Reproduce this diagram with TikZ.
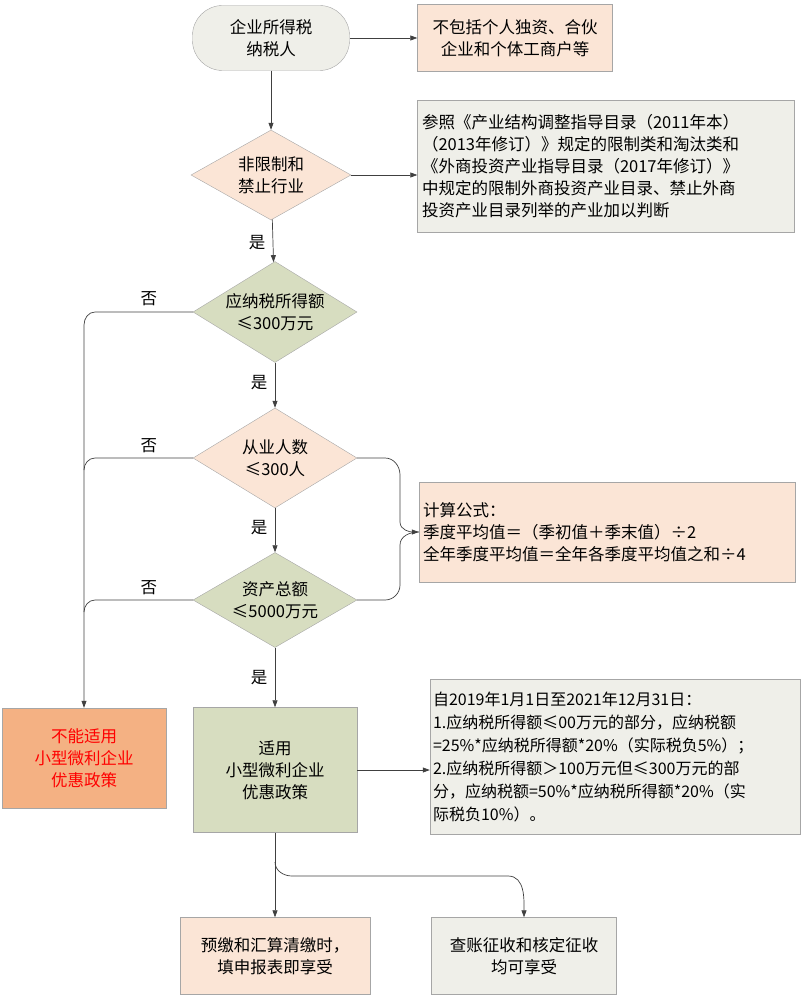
\documentclass[tikz,border=0pt]{standalone}
\usepackage{fontspec}
\setmainfont{Noto Sans CJK SC}
\usetikzlibrary{shapes.geometric,arrows.meta}
\definecolor{peach}{HTML}{FBE5D6}
\definecolor{grayf}{HTML}{EFEFE9}
\definecolor{greenf}{HTML}{D7DDC0}
\definecolor{orangef}{HTML}{F4B183}
\definecolor{ln}{HTML}{404040}
\begin{document}
\begin{tikzpicture}[x=1pt,y=-1pt,
 every node/.style={font=\fontsize{16.5}{22}\selectfont},
 bx/.style={draw=gray!70,align=center,inner sep=0pt},
 dm/.style={draw=gray!70,diamond,aspect=1.65,align=center,inner sep=0pt},
 ar/.style={draw=ln,-{Triangle[length=7pt,width=5pt]},line width=0.7pt},
 ln/.style={draw=ln,line width=0.7pt}]
\useasboundingbox (0,0) rectangle (805,1000);
\node[bx,fill=grayf,rounded corners=30pt,minimum width=157pt,minimum height=65pt] (s) at (271,38) {企业所得税\\纳税人};
\node[bx,fill=peach,minimum width=195pt,minimum height=67pt] (r1) at (515,38) {不包括个人独资、合伙\\企业和个体工商户等};
\node[dm,fill=peach,minimum width=160pt,minimum height=90pt] (d1) at (271,175) {非限制和\\禁止行业};
\node[bx,fill=grayf,minimum width=377pt,minimum height=132pt,align=left,text width=368pt,inner sep=4pt] (r2) at (606,166) {参照《产业结构调整指导目录（2011年本）\\（2013年修订）》规定的限制类和淘汰类和\\《外商投资产业指导目录（2017年修订）》\\中规定的限制外商投资产业目录、禁止外商\\投资产业目录列举的产业加以判断};
\node[dm,fill=greenf,minimum width=164pt,minimum height=101pt] (d2) at (275,312) {应纳税所得额\\≤300万元};
\node[dm,fill=peach,minimum width=164pt,minimum height=100pt] (d3) at (275,458) {从业人数\\≤300人};
\node[dm,fill=greenf,minimum width=164pt,minimum height=95pt] (d4) at (275,600) {资产总额\\≤5000万元};
\node[bx,fill=peach,minimum width=375pt,minimum height=100pt,align=left,text width=368pt,inner sep=4pt] (f) at (607,532) {计算公式：\\季度平均值＝（季初值＋季末值）÷2\\全年季度平均值＝全年各季度平均值之和÷4};
\node[bx,fill=orangef,text=red,minimum width=164pt,minimum height=100pt] (no) at (84,758) {不能适用\\小型微利企业\\优惠政策};
\node[bx,fill=greenf,minimum width=164pt,minimum height=125pt] (yes) at (275,770) {适用\\小型微利企业\\优惠政策};
\node[bx,fill=grayf,minimum width=370pt,minimum height=155pt,align=left,text width=364pt,inner sep=3pt,font=\fontsize{16}{23}\selectfont] (r3) at (615,757) {自2019年1月1日至2021年12月31日：\\1.应纳税所得额≤00万元的部分，应纳税额\\=25\%*应纳税所得额*20\%（实际税负5\%）；\\2.应纳税所得额＞100万元但≤300万元的部\\分，应纳税额=50\%*应纳税所得额*20\%（实\\际税负10\%）。};
\node[bx,fill=peach,minimum width=190pt,minimum height=77pt] (b1) at (275,956) {预缴和汇算清缴时，\\填申报表即享受};
\node[bx,fill=grayf,minimum width=185pt,minimum height=77pt] (b2) at (524,956) {查账征收和核定征收\\均可享受};
\draw[ar] (s) -- (r1);
\draw[ar] (s) -- (d1);
\draw[ar] (d1) -- (r2.west|-d1);
\draw[ar] (d1) -- node[pos=0.55,left=4pt]{是} (d2);
\draw[ar] (d2) -- node[pos=0.45,left=4pt]{是} (d3);
\draw[ar] (d3) -- node[pos=0.45,left=4pt]{是} (d4);
\draw[ar] (d4) -- node[pos=0.5,left=4pt]{是} (yes);
\draw[ar] (d2.west) -- node[pos=0.45,above=2pt]{否} (95,312) to[out=180,in=90] (84,325) -- (no.north);
\draw[ln] (d3.west) -- node[pos=0.45,above=2pt]{否} (95,458) to[out=180,in=90] (84,470);
\draw[ln] (d4.west) -- node[pos=0.45,above=2pt]{否} (95,600) to[out=180,in=90] (84,612);
\draw[ar] (d3.east) -- (385,458) to[out=0,in=90] (400,475) -- (400,522) to[out=-90,in=180] (f.west);
\draw[ln] (d4.east) -- (385,600) to[out=0,in=-90] (400,585) -- (400,545) to[out=90,in=180] (f.west);
\draw[ar] (yes.east) -- (r3.west|-yes.east);
\draw[ar] (yes.south) -- (b1.north);
\coordinate (j) at (275,862);
\draw[ar] (j) to[out=-90,in=180] (292,876) -- (508,876) to[out=0,in=90] (b2.north);
\end{tikzpicture}
\end{document}
